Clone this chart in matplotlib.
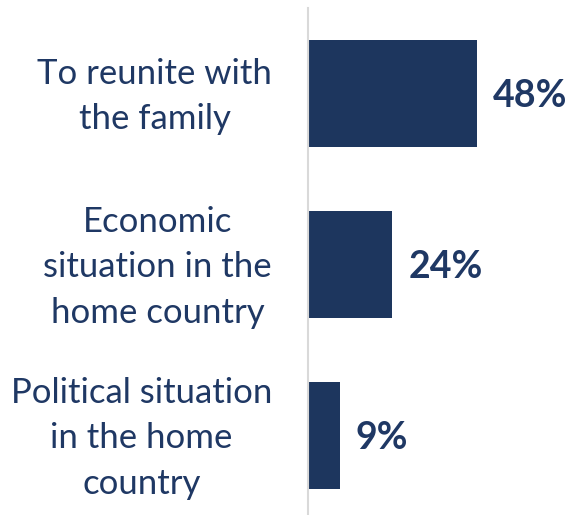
import matplotlib
matplotlib.use("Agg")
import matplotlib.pyplot as plt
import matplotlib.transforms as mtransforms

# Reasons for migrating (share of respondents, %)
CATEGORIES = ["To reunite with\nthe family",
              "Economic\nsituation in the\nhome country",
              "Political situation\nin the home\ncountry"]
VALUES = [48, 24, 9]
VALUE_LABELS = ["48%", "24%", "9%"]

NAVY = "#1D365E"
TEXT = "#1F3864"

plt.rcParams["font.family"] = ["Lato", "DejaVu Sans"]

fig = plt.figure(figsize=(5.72, 5.15), dpi=100)
ax = fig.add_axes([308 / 572, 0.0, 1 - 308 / 572, 507 / 515])

ypos = list(range(len(VALUES)))
bars = ax.barh(ypos, VALUES, height=0.626, color=NAVY)
ax.set_ylim(2.465, -0.5)
ax.set_xlim(0, 75)

for y, v, lab in zip(ypos, VALUES, VALUE_LABELS):
    ax.annotate(lab, (v, y), xytext=(11.5, -1.5), textcoords="offset points",
                ha="left", va="center", fontsize=27, fontweight="bold",
                color=TEXT)

ax.set_yticks(ypos)
ax.set_yticklabels(CATEGORIES, fontsize=25, color=TEXT,
                   multialignment="center", linespacing=1.52)
ax.tick_params(axis="y", length=0, pad=26)
# nudge the category labels up a little to sit centred on the bars
shift = mtransforms.ScaledTranslation(0, 5 / 72, fig.dpi_scale_trans)
for lbl in ax.get_yticklabels():
    lbl.set_transform(lbl.get_transform() + shift)
ax.set_xticks([])
for side in ["top", "right", "bottom"]:
    ax.spines[side].set_visible(False)
ax.spines["left"].set_color("#D9D9D9")
ax.spines["left"].set_linewidth(1.5)

fig.savefig("out.png", dpi=100)
